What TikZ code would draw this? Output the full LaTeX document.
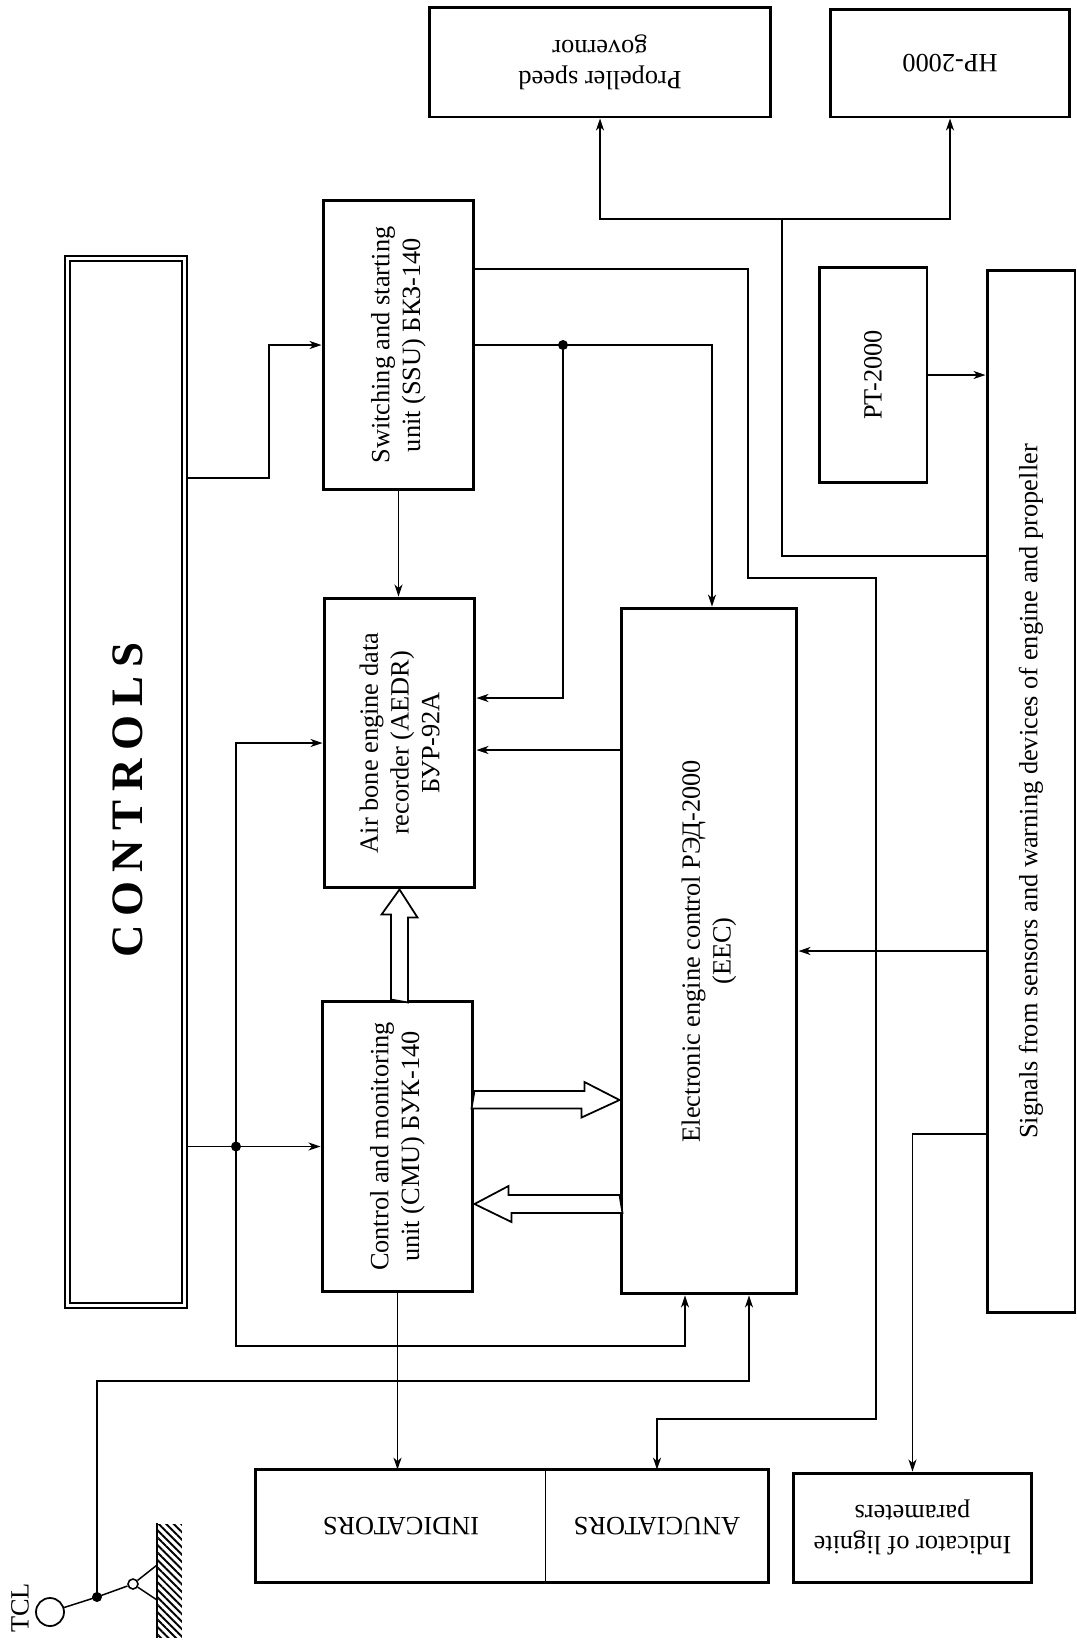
\documentclass[tikz,border=0pt]{standalone}
\usepackage{fontspec}
\setmainfont{Liberation Serif}
\usepackage{tikz}
\usetikzlibrary{arrows.meta,calc,patterns.meta,positioning}

\tikzset{
  blk/.style={draw, line width=1.7pt, inner sep=0pt},
  txt/.style={font=\fontsize{15}{17.5}\selectfont, align=center},
  wire/.style={line width=0.85pt},
  arr/.style={line width=0.85pt, -{Stealth[length=0.24cm,width=0.16cm,inset=0.07cm]}},
  hollow/.style={draw, line width=1pt, fill=white},
  jdot/.style={circle, fill, inner sep=0pt, minimum size=0.2cm}
}

\begin{document}
\begin{tikzpicture}[x=0.02cm,y=0.02cm]
\useasboundingbox (0,0) rectangle (1076,-1641);

% blocks
\node[blk, minimum width=6.84cm, minimum height=2.2cm] (prop) at (600,-62) {};
\node[txt, rotate=180] (proptxt) at (prop) {Propeller speed\\governor};
\node[blk, minimum width=4.8cm, minimum height=2.16cm] (hp) at (950,-63) {};
\node[txt, rotate=180] (hptxt) at (hp) {HP-2000};

\node[blk, line width=1.4pt, minimum width=2.44cm, minimum height=21.04cm] (ctl) at (126,-782) {};
\draw[line width=0.9pt] ([shift={(6,-6)}]ctl.north west) rectangle ([shift={(-6,6)}]ctl.south east);
\node[rotate=90, font=\fontsize{25.6}{30}\selectfont\bfseries\addfontfeature{LetterSpace=20}] (ctltxt) at (128,-800) {CONTROLS};

\node[blk, minimum width=3.02cm, minimum height=5.8cm] (ssu) at (398.5,-345) {};
\node[txt, rotate=90] (ssutxt) at (ssu) {Switching and starting\\unit (SSU) БКЗ-140};
\node[blk, minimum width=3.02cm, minimum height=5.8cm] (aedr) at (399.5,-743) {};
\node[txt, rotate=90] (aedrtxt) at (aedr) {Air bone engine data\\recorder (AEDR)\\БУР-92А};
\node[blk, minimum width=3.02cm, minimum height=5.82cm] (cmu) at (397.5,-1146.5) {};
\node[txt, rotate=90] (cmutxt) at (cmu) {Control and monitoring\\unit (CMU) БУК-140};
\node[blk, minimum width=3.52cm, minimum height=13.72cm] (eec) at (709,-951) {};
\node[txt, rotate=90] (eectxt) at (eec) {Electronic engine control РЭД-2000\\(EEC)};
\node[blk, minimum width=2.16cm, minimum height=4.32cm] (pt) at (873,-375) {};
\node[txt, rotate=90] (pttxt) at (pt) {PT-2000};
\node[blk, minimum width=1.76cm, minimum height=20.86cm] (sig) at (1031,-791.5) {};
\node[txt, rotate=90] (sigtxt) at (sig) {Signals from sensors and warning devices of engine and propeller};

\node[inner sep=0pt, minimum width=5.8cm, minimum height=2.24cm] (ind) at (401,-1526) {};
\node[inner sep=0pt, minimum width=4.44cm, minimum height=2.24cm] (anc) at (657,-1526) {};
\draw[line width=1.7pt] (ind.north west) rectangle (anc.south east);
\draw[line width=0.8pt] (anc.north west) -- (anc.south west);
\node[txt, rotate=180] (indtxt) at (ind) {INDICATORS};
\node[txt, rotate=180] (anctxt) at (anc) {ANUCIATORS};
\node[blk, minimum width=4.78cm, minimum height=2.18cm] (lig) at (912.5,-1527.5) {};
\node[txt, rotate=180] (ligtxt) at (lig) {Indicator of lignite\\parameters};

% junctions
\coordinate (j1) at (236,-1146.5);
\coordinate (j2) at (563,-345);
\coordinate (j3) at (782,-219);
\coordinate (tj) at (97,-1597);
\node[jdot] (j1dot) at (j1) {};
\node[jdot] (j2dot) at (j2) {};
\node[jdot] (tjdot) at (tj) {};

% connectors
\draw[arr] (ctl.east |- 0,-478) -- ++(81,0) |- (ssu.west);
\draw[arr] (ctl.east |- j1) -- (cmu.west);
\draw[arr] (j1) |- (aedr.west);
\draw[arr] (j1) -- ++(0,-199.5) -| (eec.south -| 685,0);
\draw[arr] (ssu.south) -- (ssu.south |- aedr.north);
\draw[arr] (ssu.east) -| (eec.north -| 712,0);
\draw[arr] (j2) |- (aedr.east |- 0,-698);
\draw[arr] (eec.west |- 0,-750) -- (aedr.east |- 0,-750);
\draw[arr] (ssu.east |- 0,-269) -| (748,-578) -| (876,-1419) -| (anc.north);
\draw[arr] (sig.west |- 0,-556) -| (j3) -| (prop.south);
\draw[arr] (j3) -| (hp.south);
\draw[arr] (pt.east) -- (sig.west |- pt.east);
\draw[arr] (sig.west |- eec.east) -- (eec.east);
\draw[arr] (sig.west |- 0,-1134) -| (lig.north);
\draw[arr] (cmu.south) -- (cmu.south |- ind.north);
\draw[arr] (tj) -- ++(0,216) -| (eec.south -| 749,0);

% bus arrows
\draw[hollow] (aedr.south |- cmu.north) ++(-8.5,0) -- ++(0,85) -- ++(-9.5,0) -- (aedr.south) -- ++(18,-28) -- ++(-9.5,0) -- ++(0,-85) -- cycle;
\draw[hollow] (cmu.east |- 0,-1091) -- ++(110,0) -- ++(0,9) -- (eec.west |- 0,-1100) -- ++(-38,-17.5) -- ++(0,9) -- ++(-110,0) -- cycle;
\draw[hollow] (eec.west |- 0,-1195) -- ++(-111,0) -- ++(0,9) -- (cmu.east |- 0,-1204) -- ++(37,-18) -- ++(0,9) -- ++(111,0) -- cycle;

% TCL lever
\node[draw, circle, line width=1pt, minimum size=0.56cm, inner sep=0pt] (tcl) at (50,-1612) {};
\node[draw, circle, line width=0.9pt, fill=white, minimum size=0.2cm, inner sep=0pt] (piv) at (133,-1584) {};
\node[pattern={Lines[angle=-45,distance=3pt,line width=1.1pt]}, minimum width=0.48cm, minimum height=2.26cm, inner sep=0pt] (wall) at (170,-1580.5) {};
\draw[line width=1.4pt] (wall.north west) -- (wall.south west);
\draw[wire] (tcl) -- (tj) -- (piv);
\draw[wire] (piv) -- (wall.west |- 0,-1565);
\draw[wire] (piv) -- (wall.west |- 0,-1600);
\node[txt, rotate=90] (tcltxt) at (20,-1608) {TCL};
\end{tikzpicture}
\end{document}
